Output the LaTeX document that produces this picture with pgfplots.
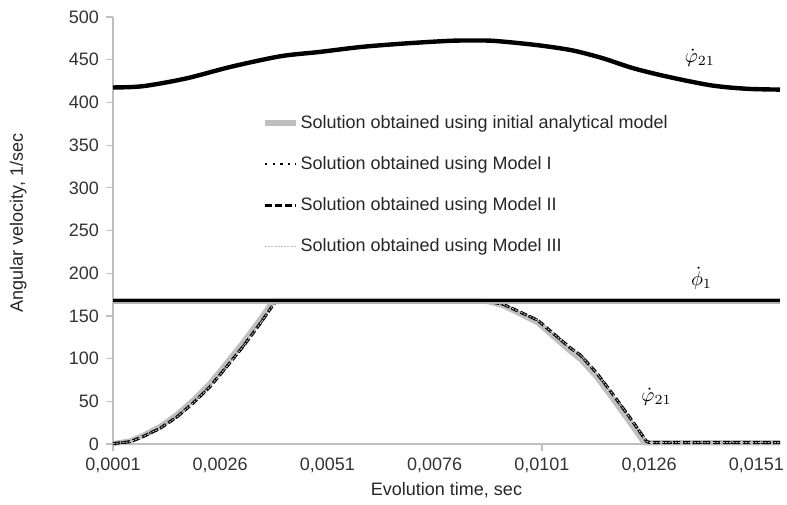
\documentclass[border=0pt]{standalone}
\usepackage{fontspec}
\setmainfont{Liberation Sans}
\usepackage{pgfplots}
\pgfplotsset{compat=1.18}

% upper branch of phi21 (all solutions coincide)
\pgfplotstableread{
x y
0.0001 417.5
0.0008 419
0.0018 428
0.00285 441.7
0.0040 454
0.0049 459
0.0059 465
0.0069 469
0.0079 472
0.0084 472.5
0.0090 472
0.0100 467
0.0108 461
0.0115 452
0.01223 440
0.01304 430
0.01404 420
0.01486 416
0.01565 415
}\uppertab

% lower branch, models I-III
\pgfplotstableread{
x y
0.0001 0.5
0.0005 2.7
0.0008 8.6
0.0012 18.4
0.0016 32
0.00196 47.6
0.00236 67
0.00275 90.5
0.00313 114
0.00353 141
0.00383 162.7
0.00392 168
0.0087 168
0.0089 166.5
0.0092 163.6
0.0100 145
0.01075 113
0.0110 104
0.01138 83
0.01175 58.5
0.01215 31
0.01254 3
0.01262 1.5
0.01565 1.5
}\lowertab

% lower branch, initial analytical model
\pgfplotstableread{
x y
0.0001 0.5
0.0005 3.5
0.0008 10
0.0012 20.5
0.0016 35
0.00196 51
0.00236 71
0.00275 95
0.00313 119
0.00353 146
0.00378 164
0.00386 168
0.0087 168
0.0089 166
0.0092 162
0.0100 142
0.01075 109
0.0110 99
0.01138 78
0.01175 53
0.01215 25
0.01248 1.5
0.01565 1.5
}\analytictab

\begin{document}
\begin{tikzpicture}[x=1pt,y=1pt]
\path[use as bounding box] (0,0) rectangle (393.5,252);
\begin{axis}[
  at={(56.5pt,30pt)}, anchor=south west,
  width=333.5pt, height=213.5pt, scale only axis,
  xmin=0.0001, xmax=0.01565, ymin=0, ymax=500,
  clip=false,
  axis lines=left,
  axis line style={gray!50, -, line width=0.6pt},
  tick align=outside,
  major tick length=3.5pt,
  tick style={gray!50, line width=0.6pt},
  ytick={0,50,...,500},
  xtick={0.0001,0.0026,0.0051,0.0076,0.0101,0.0126,0.0151},
  xticklabels={{0,0001},{0,0026},{0,0051},{0,0076},{0,0101},{0,0126},{0,0151}},
  scaled x ticks=false,
  xtick style={draw=none},
  extra x ticks={0.0001,0.0101},
  extra x tick labels={},
  extra x tick style={xtick style={draw=gray!50}},
  /pgf/number format/assume math mode=true,
  ticklabel style={font=\fontsize{9}{10.8}\selectfont, text=black!80},
  yticklabel style={/pgf/number format/fixed},
  label style={font=\fontsize{9}{10.8}\selectfont, text=black!85},
  xlabel={Evolution time, sec},
  ylabel={Angular velocity, 1/sec},
  xlabel style={at={(axis description cs:0.5,-0.108)}, anchor=center},
  ylabel style={at={(axis description cs:-0.142,0.518)}, anchor=center},
  legend cell align=left,
  legend image code/.code={\draw[#1] (0pt,0pt) -- (15.5pt,0pt);},
  legend style={at={(axis cs:0.003573,388)}, anchor=north west,
    draw=none, fill=none, inner sep=0pt, row sep=10.5pt,
    font=\fontsize{9}{10.8}\selectfont, text=black!85,
    nodes={inner sep=1pt}},
]
% upper branch: all solutions coincide
\addplot[black, line width=2.2pt, smooth, forget plot] table {\uppertab};

% lower branch of phi21
\addplot[gray!50, line width=2.6pt] table {\analytictab};
\addlegendentry{Solution obtained using initial analytical model}
\addplot[black, line width=1.2pt, dash pattern=on 1.2pt off 2.6pt] table {\lowertab};
\addlegendentry{Solution obtained using Model I}
\addplot[black, line width=1.5pt, dash pattern=on 3.5pt off 1.5pt] table {\lowertab};
\addlegendentry{Solution obtained using Model II}
\addplot[gray!55, line width=0.5pt, dash pattern=on 1pt off 0.6pt] table {\lowertab};
\addlegendentry{Solution obtained using Model III}

% phi1, drawn last so it covers the plateau
\addplot[gray!60, line width=3pt, forget plot] coordinates {(0.0001,168) (0.01565,168)};
\addplot[black, line width=1.8pt, forget plot] coordinates {(0.0001,168) (0.01565,168)};

\node[font=\fontsize{10}{12}\selectfont] at (axis cs:0.01378,452) {$\dot{\varphi}_{21}$};
\node[font=\fontsize{10}{12}\selectfont] at (axis cs:0.01382,194) {$\dot{\phi}_{1}$};
\node[font=\fontsize{10}{12}\selectfont] at (axis cs:0.01277,55) {$\dot{\varphi}_{21}$};
\end{axis}
\end{tikzpicture}
\end{document}
